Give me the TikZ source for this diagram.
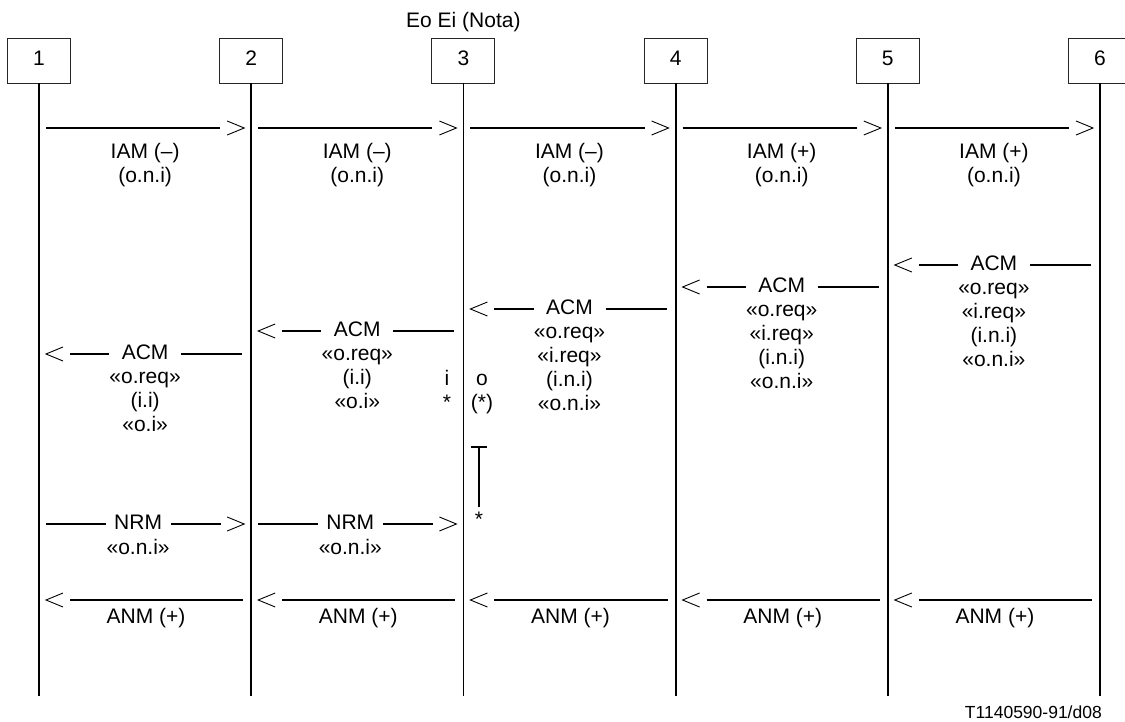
\documentclass[tikz,border=0pt]{standalone}
\usepackage{fontspec}
\setmainfont{Liberation Sans}
\begin{document}
\begin{tikzpicture}[x=1pt,y=-1pt,
  every node/.style={inner sep=0pt, font=\fontsize{21}{24}\selectfont, text height=15pt, text depth=4.5pt},
  box/.style={draw=black!85, line width=0.9pt, minimum width=63pt, minimum height=45pt},
  life/.style={line width=1.8pt},
  msg/.style={line width=1.7pt},
  chev/.style={line width=0.9pt},
  tbar/.style={line width=1.1pt}]
\useasboundingbox (0,0) rectangle (1125,722);

\node (note) at (463.4,22) {Eo Ei (Nota)};

% boxes and lifelines
\foreach \i in {1,...,6} {
  \pgfmathsetmacro\xx{39+212.2*(\i-1)}
  \node[box] (b\i) at (\xx,60.5) {\i};
  \coordinate (e\i) at (\xx,696);
  \draw[life] (b\i.south) -- (e\i);
}

% IAM row
\foreach \i/\s in {1/–,2/–,3/–,4/+,5/+} {
  \pgfmathsetmacro\xa{39+212.2*(\i-1)}
  \pgfmathsetmacro\xb{\xa+212.2}
  \pgfmathsetmacro\xm{\xa+106.1}
  \coordinate (ia\i) at (\xa+7,128);
  \coordinate (ib\i) at (\xb-31,128);
  \coordinate (it\i) at (\xb-7,128);
  \draw[msg] (ia\i) -- (ib\i);
  \draw[chev] (it\i) ++(-17,-7) -- (it\i) -- ++(-17,7);
  \node (il\i) at (\xm,153) {IAM (\s)};
  \node (im\i) at (\xm,177) {(o.n.i)};
}

% ACM rows
\foreach \c/\y/\lines in {1/354/{«o.req»,(i.i),«o.i»},
                          2/331/{«o.req»,(i.i),«o.i»},
                          3/309/{«o.req»,«i.req»,(i.n.i),«o.n.i»},
                          4/287/{«o.req»,«i.req»,(i.n.i),«o.n.i»},
                          5/265/{«o.req»,«i.req»,(i.n.i),«o.n.i»}} {
  \pgfmathsetmacro\xa{39+212.2*(\c-1)}
  \pgfmathsetmacro\xb{\xa+212.2}
  \pgfmathsetmacro\xm{\xa+106.1}
  \coordinate (at\c) at (\xa+7,\y);
  \coordinate (as\c) at (\xa+31,\y);
  \coordinate (ae\c) at (\xm-36,\y);
  \coordinate (af\c) at (\xm+36,\y);
  \coordinate (ag\c) at (\xb-9,\y);
  \node (acm\c) at (\xm,\y) {ACM};
  \draw[msg] (as\c) -- (ae\c);
  \draw[msg] (af\c) -- (ag\c);
  \draw[chev] (at\c) ++(17,-7) -- (at\c) -- ++(17,7);
  \foreach \t [count=\k] in \lines {
    \node (acm\c-\k) at (\xm,\y+24*\k) {\t};
  }
}

% interworking marks at exchange 3
\node (mi) at (447,380) {i};
\node (mo) at (482,380) {o};
\node (ms) at (447,404) {*};
\node (mp) at (482,404) {(*)};
\coordinate (tl) at (471,447);
\coordinate (tr) at (487,447);
\coordinate (tt) at (479,447);
\coordinate (tb) at (479,507);
\draw[tbar] (tl) -- (tr);
\draw[tbar] (tt) -- (tb);
\node (mstar) at (479,521) {*};

% NRM row
\foreach \c in {1,2} {
  \pgfmathsetmacro\xa{39+212.2*(\c-1)}
  \pgfmathsetmacro\xb{\xa+212.2}
  \pgfmathsetmacro\xm{\xa+106.1}
  \coordinate (na\c) at (\xa+7,524);
  \coordinate (nb\c) at (\xm-39,524);
  \coordinate (nc\c) at (\xm+26,524);
  \coordinate (nd\c) at (\xm+76,524);
  \coordinate (nt\c) at (\xb-7,524);
  \node (nrm\c) at (\xm-7,524) {NRM};
  \node (nrmL\c) at (\xm-7,549) {«o.n.i»};
  \draw[msg] (na\c) -- (nb\c);
  \draw[msg] (nc\c) -- (nd\c);
  \draw[chev] (nt\c) ++(-17,-7) -- (nt\c) -- ++(-17,7);
}

% ANM row
\foreach \c in {1,...,5} {
  \pgfmathsetmacro\xa{39+212.2*(\c-1)}
  \pgfmathsetmacro\xb{\xa+212.2}
  \pgfmathsetmacro\xm{\xa+106.1}
  \coordinate (nt\c) at (\xa+7,600);
  \coordinate (ns\c) at (\xa+31,600);
  \coordinate (ne\c) at (\xb-8,600);
  \draw[msg] (ns\c) -- (ne\c);
  \draw[chev] (nt\c) ++(17,-7) -- (nt\c) -- ++(17,7);
  \node (anm\c) at (\xm+1,618) {ANM (+)};
}

\node[anchor=east, font=\fontsize{17.5}{21}\selectfont] (ref) at (1102,713) {T1140590-91/d08};
\end{tikzpicture}
\end{document}
